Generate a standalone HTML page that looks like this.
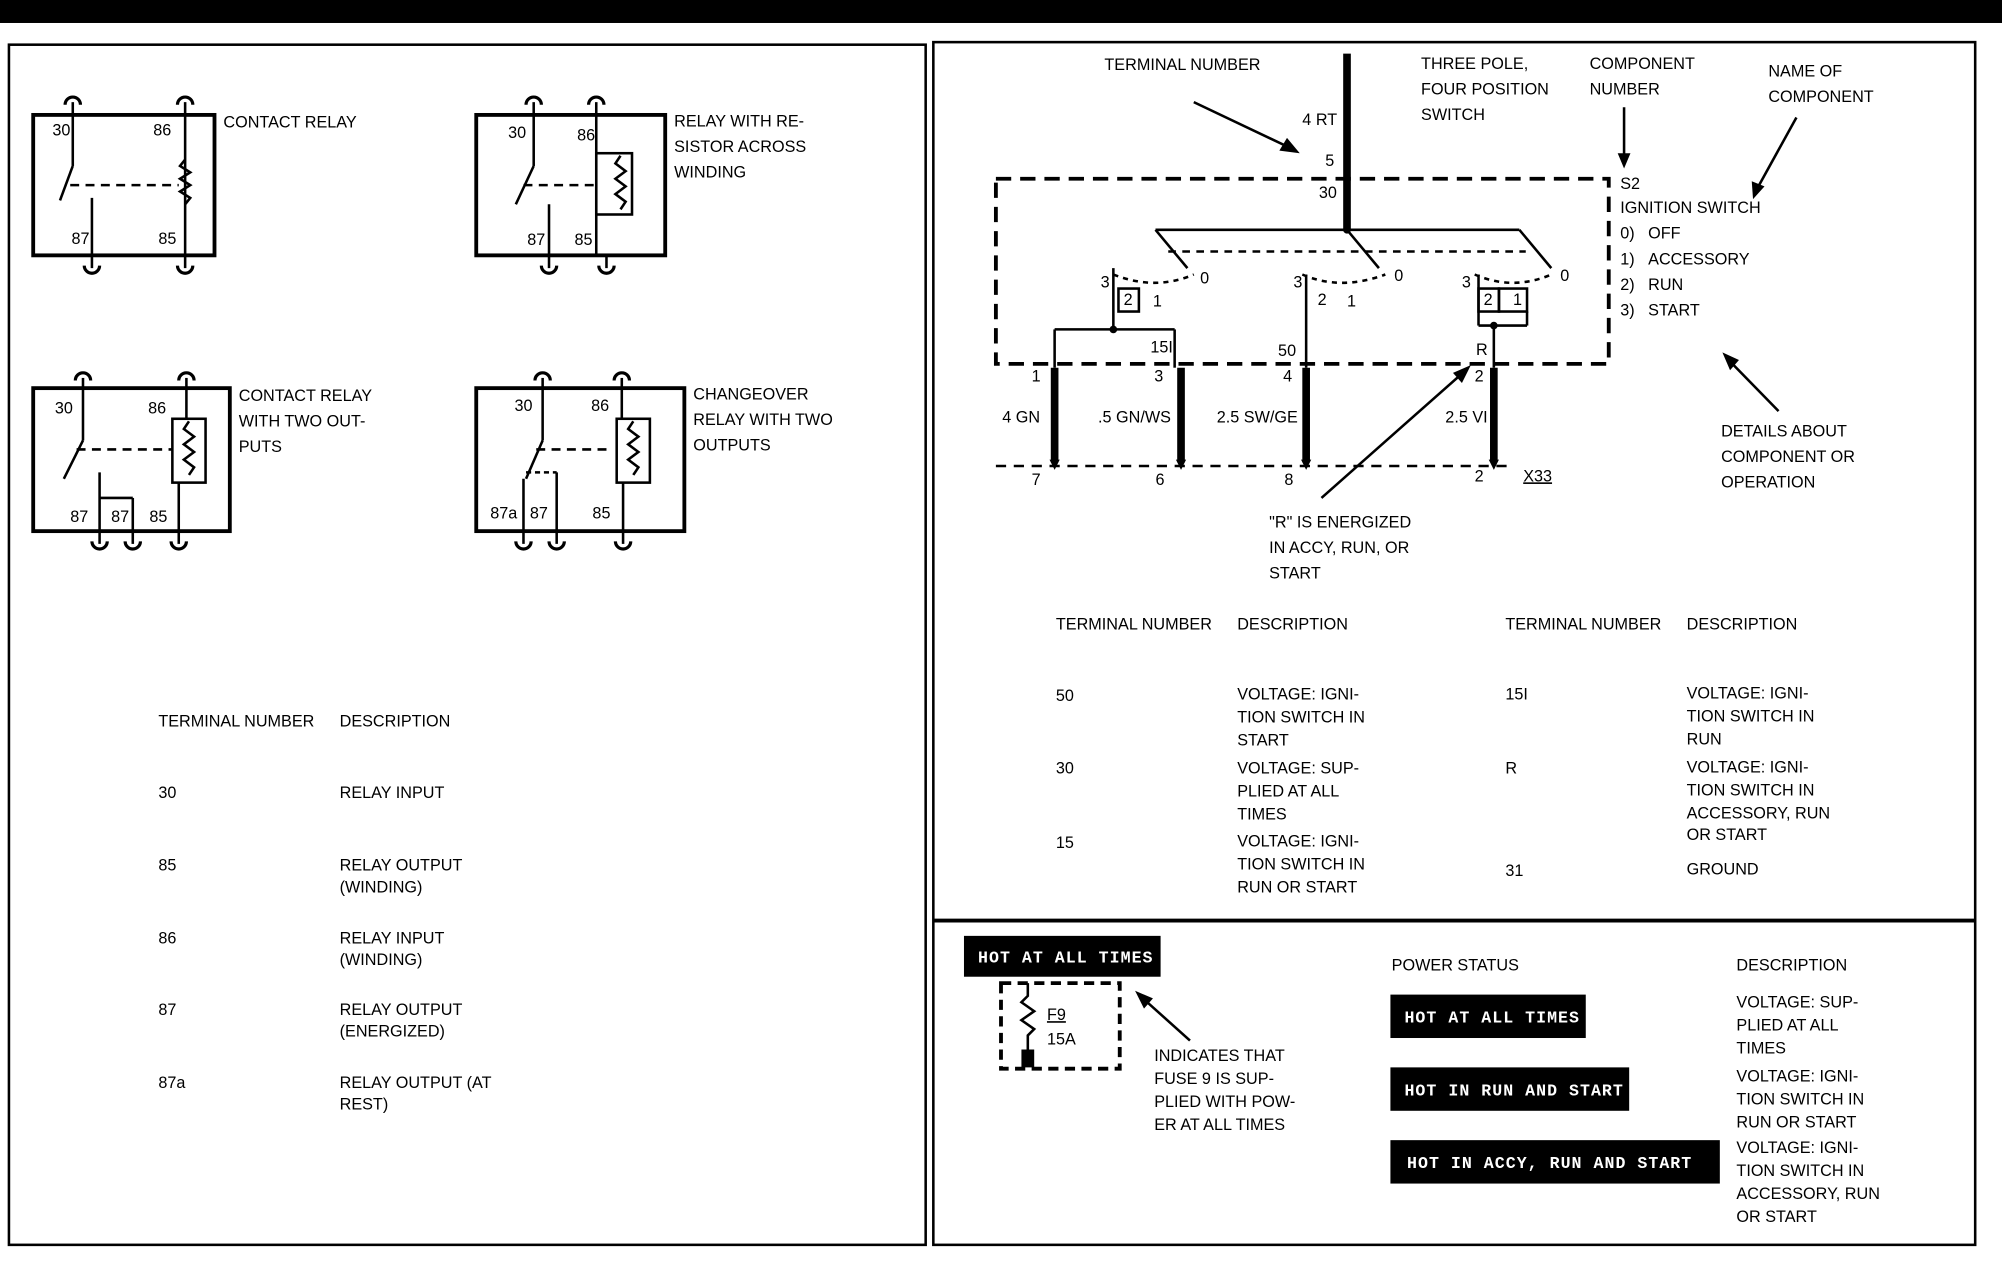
<!DOCTYPE html>
<html><head><meta charset="utf-8"><style>
html,body{margin:0;padding:0;background:#fff}
svg{display:block}
text{font-family:"Liberation Sans",sans-serif;font-size:12.7px;fill:#000}
.w{fill:#fff;font-family:"Liberation Mono",monospace;font-size:13px;letter-spacing:0.8px;font-weight:bold}
</style></head><body>
<svg width="2002" height="1264" viewBox="0 0 1568 990" preserveAspectRatio="none" xmlns="http://www.w3.org/2000/svg">
<rect x="0" y="0" width="1568" height="18" fill="#000"/>
<g fill="none" stroke="#000" stroke-width="2">
<rect x="7" y="35" width="718" height="940"/>
<rect x="731" y="33" width="816" height="942"/>
<line x1="731" y1="721" x2="1547" y2="721" stroke-width="3"/>
</g>

<defs>
<g id="cap"><path d="M-6,4 A6,6 0 0 1 6,4" fill="none" stroke="#000" stroke-width="2.5"/></g>
<g id="capd"><path d="M-6,-4 A6,6 0 0 0 6,-4" fill="none" stroke="#000" stroke-width="2.5"/></g>
</defs>
<g fill="none" stroke="#000" stroke-width="2">
<rect x="26" y="90" width="142" height="110" stroke-width="3"/>
<line x1="57" y1="80" x2="57" y2="130"/><line x1="145" y1="80" x2="145" y2="200"/>
<line x1="57" y1="130" x2="47" y2="157"/><line x1="72" y1="155" x2="72" y2="210"/><line x1="145" y1="200" x2="145" y2="210"/>
<line x1="55" y1="145" x2="140" y2="145" stroke-dasharray="7,5"/>
<polyline points="145,125 141,130 149,135 141,140 149,145 141,150 149,155 145,160"/>
<rect x="373" y="90" width="148" height="110" stroke-width="3"/>
<line x1="418" y1="80" x2="418" y2="130"/><line x1="467" y1="80" x2="467" y2="200"/>
<line x1="418" y1="130" x2="404" y2="160"/><line x1="430" y1="160" x2="430" y2="210"/><line x1="475" y1="200" x2="475" y2="210"/>
<line x1="410" y1="145" x2="465" y2="145" stroke-dasharray="7,5"/>
<rect x="467" y="120" width="28" height="48"/>
<polyline points="486,122 482,128 490,134 482,140 490,146 482,152 490,158 486,164"/>
<rect x="26" y="304" width="154" height="112" stroke-width="3"/>
<line x1="65" y1="296" x2="65" y2="345"/><line x1="146" y1="296" x2="146" y2="328"/>
<line x1="65" y1="345" x2="50" y2="375"/><line x1="78" y1="370" x2="78" y2="426"/><line x1="104" y1="390" x2="104" y2="426"/><line x1="78" y1="390" x2="104" y2="390"/>
<line x1="60" y1="352" x2="135" y2="352" stroke-dasharray="7,5"/>
<rect x="135" y="328" width="26" height="50"/>
<line x1="140" y1="378" x2="140" y2="426"/>
<polyline points="148,330 144,336 152,342 144,348 152,354 144,360 152,366 148,372"/>
<rect x="373" y="304" width="163" height="112" stroke-width="3"/>
<line x1="425" y1="296" x2="425" y2="345"/><line x1="487" y1="296" x2="487" y2="328"/>
<line x1="425" y1="345" x2="412" y2="375"/><line x1="410" y1="375" x2="410" y2="426"/><line x1="436" y1="370" x2="436" y2="426"/>
<line x1="420" y1="352" x2="480" y2="352" stroke-dasharray="7,5"/>
<line x1="412" y1="370" x2="436" y2="370" stroke-dasharray="4,3"/>
<rect x="483" y="328" width="26" height="50"/>
<line x1="488" y1="378" x2="488" y2="426"/>
<polyline points="496,330 492,336 500,342 492,348 500,354 492,360 500,366 496,372"/>
</g>
<g>
<use href="#cap" x="57" y="78"/><use href="#cap" x="145" y="78"/><use href="#capd" x="72" y="212"/><use href="#capd" x="145" y="212"/>
<use href="#cap" x="418" y="78"/><use href="#cap" x="467" y="78"/><use href="#capd" x="430" y="212"/><use href="#capd" x="475" y="212"/>
<use href="#cap" x="65" y="294"/><use href="#cap" x="146" y="294"/><use href="#capd" x="78" y="428"/><use href="#capd" x="104" y="428"/><use href="#capd" x="140" y="428"/>
<use href="#cap" x="425" y="294"/><use href="#cap" x="487" y="294"/><use href="#capd" x="410" y="428"/><use href="#capd" x="436" y="428"/><use href="#capd" x="488" y="428"/>
</g>
<text x="41" y="106">30</text><text x="120" y="106">86</text><text x="56" y="191">87</text><text x="124" y="191">85</text>
<text x="175" y="100">CONTACT RELAY</text>
<text x="398" y="108">30</text><text x="452" y="110">86</text><text x="413" y="192">87</text><text x="450" y="192">85</text>
<text x="528" y="99">RELAY WITH RE-</text><text x="528" y="119">SISTOR ACROSS</text><text x="528" y="139">WINDING</text>
<text x="43" y="324">30</text><text x="116" y="324">86</text><text x="55" y="409">87</text><text x="87" y="409">87</text><text x="117" y="409">85</text>
<text x="187" y="314">CONTACT RELAY</text><text x="187" y="334">WITH TWO OUT-</text><text x="187" y="354">PUTS</text>
<text x="403" y="322">30</text><text x="463" y="322">86</text><text x="384" y="406">87a</text><text x="415" y="406">87</text><text x="464" y="406">85</text>
<text x="543" y="313">CHANGEOVER</text><text x="543" y="333">RELAY WITH TWO</text><text x="543" y="353">OUTPUTS</text>

<text x="124" y="569">TERMINAL NUMBER</text><text x="266" y="569">DESCRIPTION</text>
<text x="124" y="625">30</text><text x="266" y="625">RELAY INPUT</text>
<text x="124" y="682">85</text><text x="266" y="682">RELAY OUTPUT</text><text x="266" y="699">(WINDING)</text>
<text x="124" y="739">86</text><text x="266" y="739">RELAY INPUT</text><text x="266" y="756">(WINDING)</text>
<text x="124" y="795">87</text><text x="266" y="795">RELAY OUTPUT</text><text x="266" y="812">(ENERGIZED)</text>
<text x="124" y="852">87a</text><text x="266" y="852">RELAY OUTPUT (AT</text><text x="266" y="869">REST)</text>

<g fill="none" stroke="#000" stroke-width="2">
<rect x="780" y="140" width="480" height="145" stroke-width="3" stroke-dasharray="12,7"/>
<line x1="1055" y1="42" x2="1055" y2="180" stroke-width="6"/>
<line x1="905" y1="180" x2="1190" y2="180"/>
<line x1="915" y1="197" x2="1195" y2="197" stroke-dasharray="6,5"/>
<line x1="905" y1="180" x2="930" y2="210"/><line x1="1055" y1="180" x2="1080" y2="210"/><line x1="1190" y1="180" x2="1215" y2="210"/>
<path d="M872,215 Q905,228 935,215" stroke-dasharray="4,4"/>
<path d="M1020,215 Q1050,228 1085,215" stroke-dasharray="4,4"/>
<path d="M1155,215 Q1185,228 1215,215" stroke-dasharray="4,4"/>
<rect x="876" y="226" width="16" height="18"/><rect x="1158" y="226" width="16" height="18"/><rect x="1174" y="226" width="22" height="18"/>
<line x1="872" y1="210" x2="872" y2="258"/><line x1="826" y1="258" x2="920" y2="258"/><line x1="826" y1="258" x2="826" y2="288"/><line x1="920" y1="258" x2="920" y2="288"/>
<line x1="1023" y1="215" x2="1023" y2="288"/>
<line x1="1158" y1="215" x2="1158" y2="255"/><line x1="1196" y1="244" x2="1196" y2="255"/><line x1="1158" y1="255" x2="1196" y2="255"/><line x1="1170" y1="255" x2="1170" y2="288"/>
<line x1="826" y1="288" x2="826" y2="362" stroke-width="6"/><line x1="925" y1="288" x2="925" y2="362" stroke-width="6"/>
<line x1="1023" y1="288" x2="1023" y2="362" stroke-width="6"/><line x1="1170" y1="288" x2="1170" y2="362" stroke-width="6"/>
<line x1="780" y1="365" x2="1180" y2="365" stroke-dasharray="8,6"/>
<line x1="935" y1="80" x2="1015" y2="118"/><line x1="1272" y1="84" x2="1272" y2="128"/><line x1="1407" y1="92" x2="1375" y2="150"/>
<line x1="1035" y1="390" x2="1148" y2="290"/><line x1="1393" y1="322" x2="1352" y2="280"/><line x1="932" y1="815" x2="893" y2="780"/>
</g>
<g fill="#000">
<polygon points="1018,120 1002,118 1008,108"/><polygon points="1272,132 1267,120 1277,120"/><polygon points="1373,156 1372,142 1382,146"/>
<polygon points="1152,286 1138,292 1145,300"/><polygon points="1349,276 1355,290 1362,282"/><polygon points="889,776 896,790 903,782"/>
<circle cx="1055" cy="180" r="3"/><circle cx="872" cy="258" r="3"/><circle cx="1170" cy="255" r="3"/>
<polygon points="826,368 822,360 830,360"/><polygon points="925,368 921,360 929,360"/><polygon points="1023,368 1019,360 1027,360"/><polygon points="1170,368 1166,360 1174,360"/>
</g>
<text x="865" y="55">TERMINAL NUMBER</text><text x="1020" y="98">4 RT</text><text x="1038" y="130">5</text><text x="1033" y="155">30</text>
<text x="1113" y="54">THREE POLE,</text><text x="1113" y="74">FOUR POSITION</text><text x="1113" y="94">SWITCH</text>
<text x="1245" y="54">COMPONENT</text><text x="1245" y="74">NUMBER</text>
<text x="1385" y="60">NAME OF</text><text x="1385" y="80">COMPONENT</text>
<text x="1269" y="148">S2</text><text x="1269" y="167">IGNITION SWITCH</text>
<text x="1269" y="187">0)&#160;&#160;&#160;OFF</text><text x="1269" y="207">1)&#160;&#160;&#160;ACCESSORY</text><text x="1269" y="227">2)&#160;&#160;&#160;RUN</text><text x="1269" y="247">3)&#160;&#160;&#160;START</text>
<text x="862" y="225">3</text><text x="880" y="239">2</text><text x="903" y="240">1</text><text x="940" y="222">0</text>
<text x="1013" y="225">3</text><text x="1032" y="239">2</text><text x="1055" y="240">1</text><text x="1092" y="220">0</text>
<text x="1145" y="225">3</text><text x="1162" y="239">2</text><text x="1185" y="239">1</text><text x="1222" y="220">0</text>
<text x="901" y="276">15I</text><text x="1001" y="279">50</text><text x="1156" y="278">R</text>
<text x="808" y="299">1</text><text x="904" y="299">3</text><text x="1005" y="299">4</text><text x="1155" y="299">2</text>
<text x="785" y="331">4 GN</text><text x="860" y="331">.5 GN/WS</text><text x="953" y="331">2.5 SW/GE</text><text x="1132" y="331">2.5 VI</text>
<text x="808" y="380">7</text><text x="905" y="380">6</text><text x="1006" y="380">8</text><text x="1155" y="377">2</text><text x="1193" y="377" text-decoration="underline">X33</text>
<text x="994" y="413">"R" IS ENERGIZED</text><text x="994" y="433">IN ACCY, RUN, OR</text><text x="994" y="453">START</text>
<text x="1348" y="342">DETAILS ABOUT</text><text x="1348" y="362">COMPONENT OR</text><text x="1348" y="382">OPERATION</text>

<text x="827" y="493">TERMINAL NUMBER</text><text x="969" y="493">DESCRIPTION</text>
<text x="1179" y="493">TERMINAL NUMBER</text><text x="1321" y="493">DESCRIPTION</text>
<text x="827" y="549">50</text><text x="969" y="548">VOLTAGE: IGNI-</text><text x="969" y="566">TION SWITCH IN</text><text x="969" y="584">START</text>
<text x="827" y="606">30</text><text x="969" y="606">VOLTAGE: SUP-</text><text x="969" y="624">PLIED AT ALL</text><text x="969" y="642">TIMES</text>
<text x="827" y="664">15</text><text x="969" y="663">VOLTAGE: IGNI-</text><text x="969" y="681">TION SWITCH IN</text><text x="969" y="699">RUN OR START</text>
<text x="1179" y="548">15I</text><text x="1321" y="547">VOLTAGE: IGNI-</text><text x="1321" y="565">TION SWITCH IN</text><text x="1321" y="583">RUN</text>
<text x="1179" y="606">R</text><text x="1321" y="605">VOLTAGE: IGNI-</text><text x="1321" y="623">TION SWITCH IN</text><text x="1321" y="641">ACCESSORY, RUN</text><text x="1321" y="658">OR START</text>
<text x="1179" y="686">31</text><text x="1321" y="685">GROUND</text>

<rect x="755" y="733" width="154" height="32" fill="#000"/><text class="w" x="766" y="754">HOT AT ALL TIMES</text>
<rect x="784" y="770" width="93" height="67" fill="none" stroke="#000" stroke-width="3" stroke-dasharray="8,5"/>
<polyline points="805,770 805,780 800,785 810,792 800,799 810,806 805,811 805,822" fill="none" stroke="#000" stroke-width="2"/>
<rect x="800" y="822" width="10" height="14" fill="#000"/>
<text x="820" y="799" text-decoration="underline">F9</text><text x="820" y="818">15A</text>
<text x="904" y="831">INDICATES THAT</text><text x="904" y="849">FUSE 9 IS SUP-</text><text x="904" y="867">PLIED WITH POW-</text><text x="904" y="885">ER AT ALL TIMES</text>
<text x="1090" y="760">POWER STATUS</text><text x="1360" y="760">DESCRIPTION</text>
<rect x="1089" y="779" width="153" height="34" fill="#000"/><text class="w" x="1100" y="801">HOT AT ALL TIMES</text>
<rect x="1089" y="836" width="187" height="34" fill="#000"/><text class="w" x="1100" y="858">HOT IN RUN AND START</text>
<rect x="1089" y="893" width="258" height="34" fill="#000"/><text class="w" x="1102" y="915">HOT IN ACCY, RUN AND START</text>
<text x="1360" y="789">VOLTAGE: SUP-</text><text x="1360" y="807">PLIED AT ALL</text><text x="1360" y="825">TIMES</text>
<text x="1360" y="847">VOLTAGE: IGNI-</text><text x="1360" y="865">TION SWITCH IN</text><text x="1360" y="883">RUN OR START</text>
<text x="1360" y="903">VOLTAGE: IGNI-</text><text x="1360" y="921">TION SWITCH IN</text><text x="1360" y="939">ACCESSORY, RUN</text><text x="1360" y="957">OR START</text>
</svg>
</body></html>
